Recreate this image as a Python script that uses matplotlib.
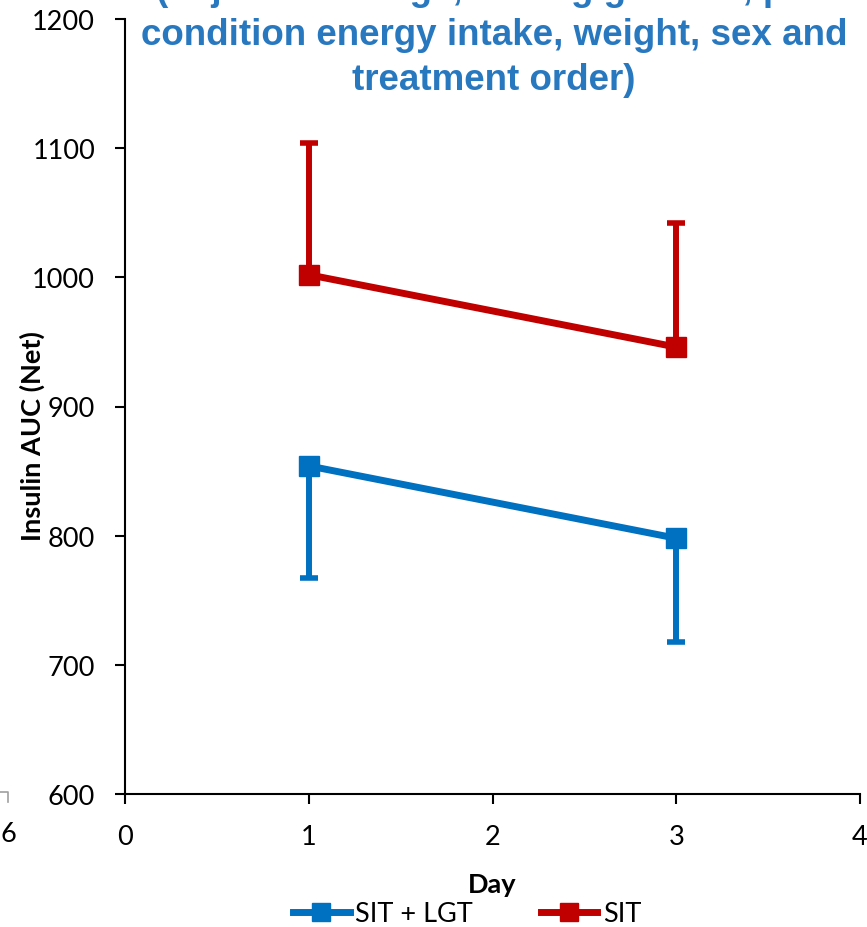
import matplotlib
matplotlib.use("Agg")
import matplotlib.pyplot as plt
from matplotlib.lines import Line2D

# Data
days = [1, 3]
sit_lgt = [854, 798]
sit_lgt_err_low = [87, 80]
sit = [1002, 946]
sit_err_high = [102, 96]

x_ticks = [0, 1, 2, 3, 4]
y_ticks = [600, 700, 800, 900, 1000, 1100, 1200]

title_lines = [
    "(adjusted for age, fasting glucose, pre-",
    "condition energy intake, weight, sex and",
    "treatment order)",
]

BLUE = "#0070C0"
RED = "#C00000"
TITLE_BLUE = "#2878C0"
TICK_FONT = "Lato"

W, H = 867, 928
fig = plt.figure(figsize=(W / 100, H / 100), dpi=100)
ax = fig.add_axes([125 / W, 1 - 795 / H, (860 - 125) / W, (795 - 20) / H])

ax.errorbar(days, sit_lgt, yerr=[sit_lgt_err_low, [0, 0]], color=BLUE,
            lw=5, marker="s", ms=15, elinewidth=4.3, capsize=6.5, capthick=4,
            zorder=3, label="SIT + LGT")
ax.errorbar(days, sit, yerr=[[0, 0], sit_err_high], color=RED,
            lw=5, marker="s", ms=15, elinewidth=4.3, capsize=6.5, capthick=4,
            zorder=3, label="SIT")

ax.set_xlim(0, 4)
ax.set_ylim(600, 1200)
ax.set_xticks(x_ticks)
ax.set_yticks(y_ticks)
for s in ["top", "right"]:
    ax.spines[s].set_visible(False)
for s in ["left", "bottom"]:
    ax.spines[s].set_linewidth(1.5)
ax.tick_params(axis="both", direction="out", length=7.5, width=1.5,
               labelsize=19.5)
ax.tick_params(axis="y", pad=14)
ax.tick_params(axis="x", pad=14)
for lab in ax.get_xticklabels() + ax.get_yticklabels():
    lab.set_fontfamily(TICK_FONT)

ax.set_ylabel("Insulin AUC (Net)", fontsize=19.5, fontweight="bold",
              fontfamily=TICK_FONT)
ax.yaxis.set_label_coords(-80 / (860 - 125), (795 - 436) / (795 - 20))

fig.text(492 / W, 1 - 885 / H, "Day", ha="center", va="center",
         fontsize=19.5, fontweight="bold", fontfamily=TICK_FONT)

# Title, three centred lines (first line runs off the top edge)
for i, line in enumerate(title_lines):
    fig.text(494 / W, 1 - (0 + 45 * i) / H, line, ha="center", va="baseline",
             fontsize=26.5, fontweight="bold", color=TITLE_BLUE,
             fontfamily="Liberation Sans")

handles = [
    Line2D([], [], color=BLUE, lw=5, marker="s", ms=13),
    Line2D([], [], color=RED, lw=5, marker="s", ms=13),
]
leg = fig.legend(handles, ["SIT + LGT", "SIT"], loc="center",
                 bbox_to_anchor=(467 / W, 1 - 915 / H), ncol=2, frameon=False,
                 handlelength=2.1, handletextpad=0.2, columnspacing=2.5,
                 prop={"family": TICK_FONT, "size": 19.5})

# Fragments of a neighbouring panel at the left edge
fig.text(0, 1 - 835 / H, "6", ha="left", va="center", fontsize=19.5,
         fontfamily=TICK_FONT)
fig.add_artist(Line2D([0, 8 / W, 8 / W], [1 - 793 / H, 1 - 793 / H, 1 - 803 / H],
                      color="#A0A0A0", lw=1.2))

fig.savefig("out.png", dpi=100)
